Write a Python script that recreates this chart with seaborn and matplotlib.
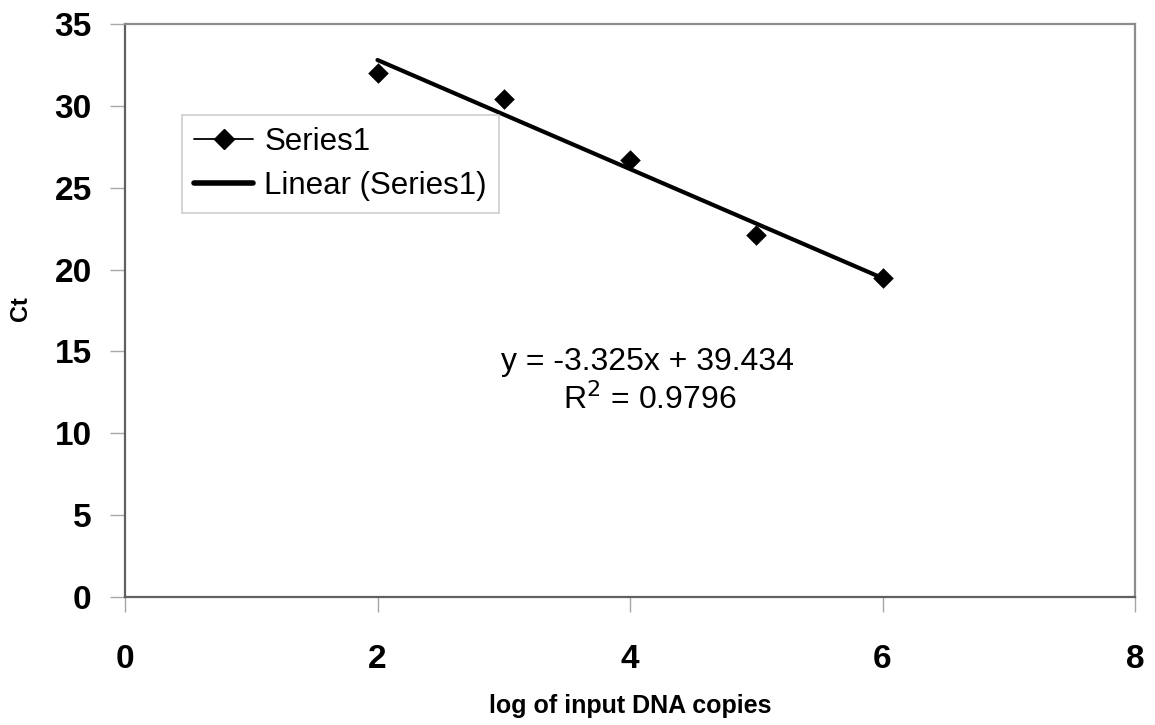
import numpy as np
import pandas as pd
import matplotlib
matplotlib.use("Agg")
import matplotlib.pyplot as plt
from matplotlib.lines import Line2D
import seaborn as sns

# данные с графика
log_copies = [2, 3, 4, 5, 6]
ct_values = [32.0, 30.4, 26.7, 22.1, 19.5]
x_ticks = [0, 2, 4, 6, 8]
y_ticks = [0, 5, 10, 15, 20, 25, 30, 35]
equation = "y = -3.325x + 39.434"
r2_text = "R$^2$ = 0.9796"

sns.set_theme(style="white")
plt.rcParams["font.family"] = ["Liberation Sans", "DejaVu Sans"]
plt.rcParams["text.color"] = "black"
plt.rcParams["axes.labelcolor"] = "black"
plt.rcParams["xtick.color"] = "black"
plt.rcParams["ytick.color"] = "black"

df = pd.DataFrame({"x": log_copies, "ct": ct_values})

# линейный тренд
slope, intercept = np.polyfit(df["x"], df["ct"], 1)
fit = pd.DataFrame({"x": [min(log_copies), max(log_copies)]})
fit["ct"] = slope * fit["x"] + intercept

fig = plt.figure(figsize=(11.55, 7.25), dpi=100)
ax = fig.add_axes([125 / 1155, 1 - 597 / 725, (1135 - 125) / 1155, (597 - 24) / 725])

sns.lineplot(data=fit, x="x", y="ct", color="black", linewidth=3, ax=ax)
sns.scatterplot(data=df, x="x", y="ct", marker="D", s=110, color="black",
                edgecolor="black", linewidth=0, ax=ax, zorder=3)

ax.set_xlim(0, 8)
ax.set_ylim(0, 35)
ax.set_xticks(x_ticks)
ax.set_yticks(y_ticks)
ax.tick_params(axis="both", bottom=True, left=True, direction="out", length=11,
               width=1, color="#a8a8a8", labelcolor="black", labelsize=24)
ax.tick_params(axis="x", pad=23)
ax.tick_params(axis="y", pad=13)
for lab in ax.get_xticklabels() + ax.get_yticklabels():
    lab.set_fontweight("bold")

for side in ["left", "bottom"]:
    ax.spines[side].set_color("#606060")
    ax.spines[side].set_linewidth(1.6)
for side in ["top", "right"]:
    ax.spines[side].set_color("#8c8c8c")
    ax.spines[side].set_linewidth(1.6)

ax.set_xlabel("log of input DNA copies", fontsize=18, fontweight="bold")
ax.set_ylabel("Ct", fontsize=17, fontweight="bold")
ax.xaxis.set_label_coords(0.5, -(706 - 597) / 573, transform=ax.transAxes)
ax.yaxis.set_label_coords(-(125 - 21) / 1010, 1 - (309 - 24) / 573)
ax.xaxis.label.set_va("center")
ax.yaxis.label.set_va("center")

ax.text(4.135, 13.87, equation, fontsize=23, ha="center", va="baseline")
ax.text(4.16, 11.5, r2_text, fontsize=23, ha="center", va="baseline")

handles = [
    Line2D([], [], color="black", lw=1.3, marker="D", markersize=10),
    Line2D([], [], color="black", lw=4),
]
leg = ax.legend(handles, ["Series1", "Linear (Series1)"], loc="upper left",
                bbox_to_anchor=(57 / 1010, 1 - 91 / 573), fontsize=22.5,
                frameon=True, fancybox=False, edgecolor="#c0c0c0",
                handlelength=1.9, handletextpad=0.35, borderpad=0.38,
                labelspacing=0.45, borderaxespad=0)
leg.get_frame().set_linewidth(1.2)
for t in leg.get_texts():
    t.set_color("black")

fig.savefig("out.png", dpi=100)
